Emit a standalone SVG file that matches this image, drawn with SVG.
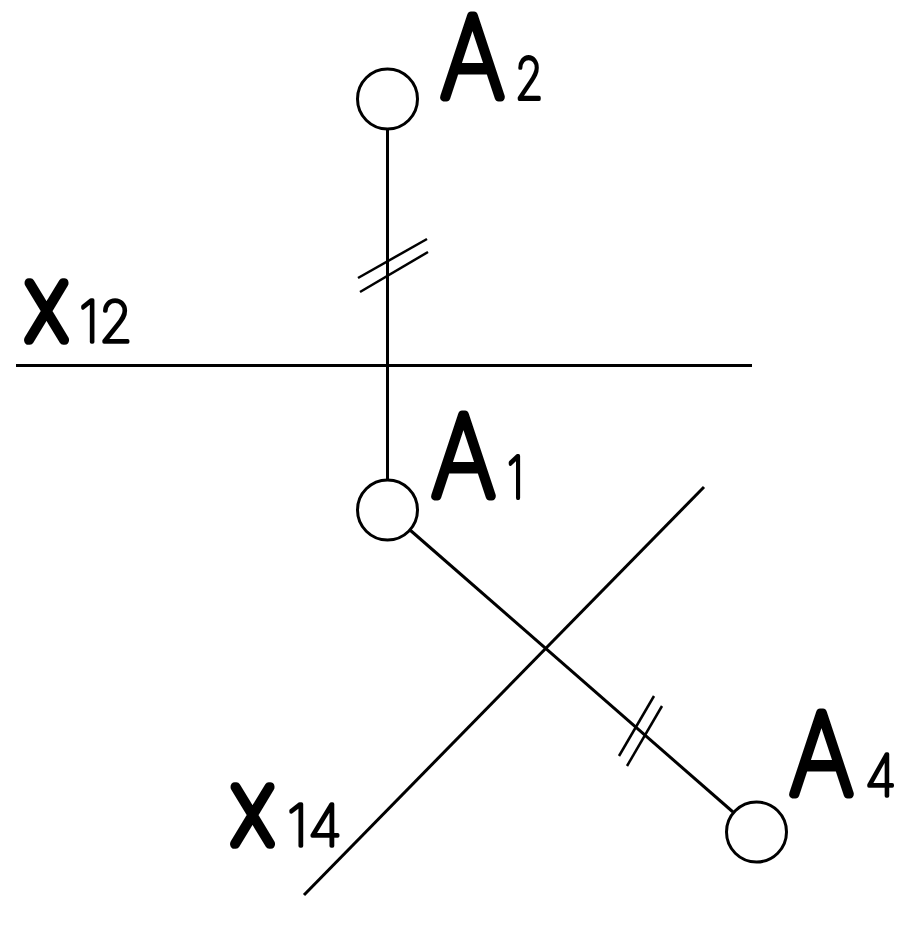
<svg xmlns="http://www.w3.org/2000/svg" width="900" height="934" viewBox="0 0 900 934">
<style>
.bg{fill:#fff}
.pt{fill:#fff;stroke:#000;stroke-width:3}
.ln{fill:none;stroke:#000;stroke-width:3;stroke-linecap:butt}
.tk{fill:none;stroke:#000;stroke-width:2.5}
text{font-family:"Inter","Liberation Sans",Arial,sans-serif;font-weight:100;fill:#000;stroke:#000;stroke-linejoin:round;stroke-linecap:round;vector-effect:non-scaling-stroke}
.big{font-size:112px;stroke-width:8.5px}
.mid{font-size:78px;stroke-width:9px}
.sub{font-size:57px;stroke-width:3.5px}
</style>
<rect class="bg" width="900" height="934"/>
<g id="connectors">
<line class="ln" x1="387.5" y1="129" x2="387.5" y2="480"/>
<line class="ln" x1="16" y1="365.5" x2="752" y2="365.5"/>
<line class="ln" x1="410" y1="530" x2="733" y2="812"/>
<line class="ln" x1="704" y1="487" x2="304" y2="895"/>
<line class="tk" x1="358" y1="278" x2="427" y2="239"/>
<line class="tk" x1="360" y1="292" x2="428" y2="252"/>
<line class="tk" x1="619" y1="756" x2="654" y2="696"/>
<line class="tk" x1="627" y1="766" x2="662" y2="706"/>
</g>
<g id="A2">
<circle class="pt" cx="387.5" cy="99" r="30"/>
<text class="big" transform="translate(441 97) scale(.88 1)">A</text>
<text class="sub" transform="translate(515 99) scale(.8 1)">2</text>
</g>
<g id="A1">
<circle class="pt" cx="387.5" cy="510" r="30"/>
<text class="big" transform="translate(432 496) scale(.88 1)">A</text>
<text class="sub" transform="translate(507 498) scale(.8 1)">1</text>
</g>
<g id="A4">
<circle class="pt" cx="756.5" cy="832" r="30"/>
<text class="big" transform="translate(790 794) scale(.88 1)">A</text>
<text class="sub" transform="translate(865 796) scale(.92 1)">4</text>
</g>
<g id="x12">
<text class="mid" transform="translate(26 340) scale(.85 1)">X</text>
<text class="sub" transform="translate(79 342) scale(.95 1)">12</text>
</g>
<g id="x14">
<text class="mid" transform="translate(232 844) scale(.85 1)">X</text>
<text class="sub" transform="translate(287 846) scale(1 1)">14</text>
</g>
</svg>
